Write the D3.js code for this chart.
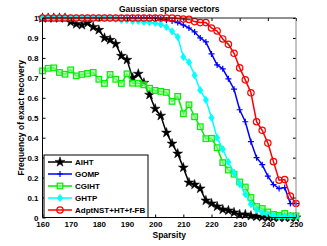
<!DOCTYPE html>
<html>
<head>
<meta charset="utf-8">
<script src="https://cdn.jsdelivr.net/npm/d3@7"></script>
<style>
  body { margin: 0; background: #fff; }
  text { font-family: "Liberation Sans", Arial, sans-serif; font-weight: bold; }
</style>
</head>
<body>
<div id="chartwrap"></div>
<script>
const WIDTH = 327;
const HEIGHT = 246;

const chart = { left: 42.5, right: 296, top: 18, bottom: 217.5 };

const sparsity = d3.range(160, 251, 2);
const xTicks = [160, 170, 180, 190, 200, 210, 220, 230, 240, 250];
const yTicks = [0, 0.1, 0.2, 0.3, 0.4, 0.5, 0.6, 0.7, 0.8, 0.9, 1];

const aiht = [1, 1, 1, 1, 1, 0.98, 0.97, 0.965, 0.975, 0.955,
  0.94, 0.9, 0.89, 0.87, 0.81, 0.79, 0.7, 0.72, 0.675, 0.615,
  0.545, 0.51, 0.425, 0.37, 0.32, 0.25, 0.175, 0.165, 0.145, 0.085,
  0.07, 0.055, 0.04, 0.035, 0.025, 0.015, 0.015, 0.008, 0.005, 0.002,
  0, 0, 0, 0, 0, 0];
const gomp = [1, 1, 1, 1, 1, 1, 1, 1, 1, 1,
  1, 1, 1, 1, 1, 1, 1, 1, 1, 1,
  1, 0.995, 0.99, 0.985, 0.977, 0.965, 0.95, 0.93, 0.9, 0.88,
  0.82, 0.765, 0.745, 0.695, 0.643, 0.54, 0.48, 0.38, 0.3, 0.265,
  0.207, 0.165, 0.145, 0.15, 0.07, 0.07];
const cgiht = [0.735, 0.748, 0.75, 0.727, 0.718, 0.74, 0.71, 0.717, 0.722, 0.727,
  0.693, 0.672, 0.717, 0.693, 0.672, 0.72, 0.673, 0.673, 0.665, 0.648,
  0.637, 0.632, 0.627, 0.582, 0.607, 0.52, 0.565, 0.505, 0.455, 0.395,
  0.397, 0.35, 0.275, 0.238, 0.217, 0.178, 0.153, 0.1, 0.055, 0.045,
  0.028, 0.015, 0.01, 0.02, 0.008, 0.008];
const ghtp = [1, 1, 1, 1, 1, 1, 1, 1, 1, 1,
  1, 1, 1, 0.995, 0.99, 0.99, 0.985, 0.985, 0.98, 0.978,
  0.975, 0.968, 0.955, 0.933, 0.905, 0.805, 0.778, 0.713, 0.638, 0.59,
  0.5, 0.4, 0.343, 0.278, 0.225, 0.167, 0.117, 0.067, 0.038, 0.025,
  0.015, 0.01, 0.005, 0.005, 0.005, 0.005];
const adpt = [1, 1, 1, 1, 1, 1, 1, 1, 1, 1,
  1, 1, 1, 1, 1, 1, 1, 1, 1, 1,
  1, 1, 1, 1, 0.997, 0.995, 0.993, 0.982, 0.977, 0.977,
  0.95, 0.935, 0.895, 0.868, 0.823, 0.75, 0.69, 0.625, 0.48, 0.437,
  0.373, 0.28, 0.187, 0.19, 0.107, 0.07];

const series = [
  { name: 'AIHT', values: aiht, color: '#000000', marker: 'star' },
  { name: 'GOMP', values: gomp, color: '#0000ff', marker: 'plus' },
  { name: 'CGIHT', values: cgiht, color: '#00ee00', marker: 'square' },
  { name: 'GHTP', values: ghtp, color: '#00ffff', marker: 'diamond' },
  { name: 'AdptNST+HT+f-FB', values: adpt, color: '#ff0000', marker: 'circle' }
];

const x = d3.scaleLinear().domain([160, 250]).range([chart.left, chart.right]);
const y = d3.scaleLinear().domain([0, 1]).range([chart.bottom, chart.top]);

const svg = d3.select('#chartwrap')
  .append('svg')
  .attr('width', WIDTH)
  .attr('height', HEIGHT);

// markers
function drawMarker(g, type, color) {
  if (type === 'star') {
    g.append('path').attr('d', d3.symbol(d3.symbolStar, 30)())
      .attr('fill', color).attr('stroke', color).attr('stroke-width', 0.5);
  } else if (type === 'plus') {
    g.append('path').attr('d', 'M-3,0H3M0,-3V3')
      .attr('fill', 'none').attr('stroke', color).attr('stroke-width', 1.2);
  } else if (type === 'square') {
    g.append('rect').attr('x', -2.8).attr('y', -2.8).attr('width', 5.6).attr('height', 5.6)
      .attr('fill', '#9f9').attr('fill-opacity', 0.6).attr('stroke', color).attr('stroke-width', 1.2);
  } else if (type === 'diamond') {
    g.append('path').attr('d', 'M0,-3.6L2.6,0L0,3.6L-2.6,0Z')
      .attr('fill', color).attr('stroke', color).attr('stroke-width', 0.8);
  } else if (type === 'circle') {
    g.append('circle').attr('r', 3.2)
      .attr('fill', 'none').attr('stroke', color).attr('stroke-width', 1.2);
  }
}

const line = d3.line()
  .x((d, i) => x(sparsity[i]))
  .y(d => y(d));

series.forEach(s => {
  const g = svg.append('g');
  g.append('path')
    .datum(s.values)
    .attr('d', line)
    .attr('fill', 'none')
    .attr('stroke', s.color)
    .attr('stroke-width', 1.5);
  s.values.forEach((v, i) => {
    const m = g.append('g').attr('transform', `translate(${x(sparsity[i])},${y(v)})`);
    drawMarker(m, s.marker, s.color);
  });
});

// axes
const tickLen = 3;
svg.append('g')
  .attr('transform', `translate(0,${chart.bottom})`)
  .call(d3.axisBottom(x).tickValues(xTicks).tickSize(-tickLen).tickPadding(4).tickFormat(d3.format('d')))
  .call(g => g.select('.domain').remove());
svg.append('g')
  .attr('transform', `translate(0,${chart.top})`)
  .call(d3.axisTop(x).tickValues(xTicks).tickSize(-tickLen).tickFormat(''))
  .call(g => g.select('.domain').remove());
svg.append('g')
  .attr('transform', `translate(${chart.left},0)`)
  .call(d3.axisLeft(y).tickValues(yTicks).tickSize(-tickLen).tickPadding(4).tickFormat(d => d3.format('')(+d.toFixed(1))))
  .call(g => g.select('.domain').remove());
svg.append('g')
  .attr('transform', `translate(${chart.right},0)`)
  .call(d3.axisRight(y).tickValues(yTicks).tickSize(-tickLen).tickFormat(''))
  .call(g => g.select('.domain').remove());

svg.selectAll('.tick text')
  .attr('font-size', 8)
  .attr('font-family', '"Liberation Sans", Arial, sans-serif')
  .attr('font-weight', 'bold')
  .attr('fill', '#000');
svg.selectAll('.tick line').attr('stroke', '#000');

// box
svg.append('line').attr('x1', chart.left).attr('x2', chart.right).attr('y1', chart.top).attr('y2', chart.top).attr('stroke', '#222');
svg.append('line').attr('x1', chart.right).attr('x2', chart.right).attr('y1', chart.top).attr('y2', chart.bottom).attr('stroke', '#888');
svg.append('line').attr('x1', chart.left).attr('x2', chart.right).attr('y1', chart.bottom).attr('y2', chart.bottom).attr('stroke', '#000');
svg.append('line').attr('x1', chart.left).attr('x2', chart.left).attr('y1', chart.top).attr('y2', chart.bottom).attr('stroke', '#000');

// labels
svg.append('text')
  .attr('x', (chart.left + chart.right) / 2)
  .attr('y', 12)
  .attr('text-anchor', 'middle')
  .attr('font-size', 8.5)
  .text('Gaussian sparse vectors');

svg.append('text')
  .attr('x', (chart.left + chart.right) / 2)
  .attr('y', 238)
  .attr('text-anchor', 'middle')
  .attr('font-size', 8.5)
  .text('Sparsity');

svg.append('text')
  .attr('transform', `translate(24,${(chart.top + chart.bottom) / 2}) rotate(-90)`)
  .attr('text-anchor', 'middle')
  .attr('font-size', 8.5)
  .text('Frequency of exact recovery');

// legend
const legend = { x: 44, y: 155, w: 104, h: 62.5, row: 12 };
const lg = svg.append('g');
lg.append('rect')
  .attr('x', legend.x).attr('y', legend.y)
  .attr('width', legend.w).attr('height', legend.h)
  .attr('fill', '#fff').attr('stroke', '#000').attr('stroke-width', 1);

series.forEach((s, i) => {
  const yy = legend.y + 7 + i * legend.row;
  lg.append('line')
    .attr('x1', legend.x + 4).attr('x2', legend.x + 28)
    .attr('y1', yy).attr('y2', yy)
    .attr('stroke', s.color).attr('stroke-width', 1.5);
  const m = lg.append('g').attr('transform', `translate(${legend.x + 16},${yy})`);
  drawMarker(m, s.marker, s.color);
  lg.append('text')
    .attr('x', legend.x + 31).attr('y', yy + 3)
    .attr('font-size', 8)
    .text(s.name);
});
</script>
</body>
</html>
